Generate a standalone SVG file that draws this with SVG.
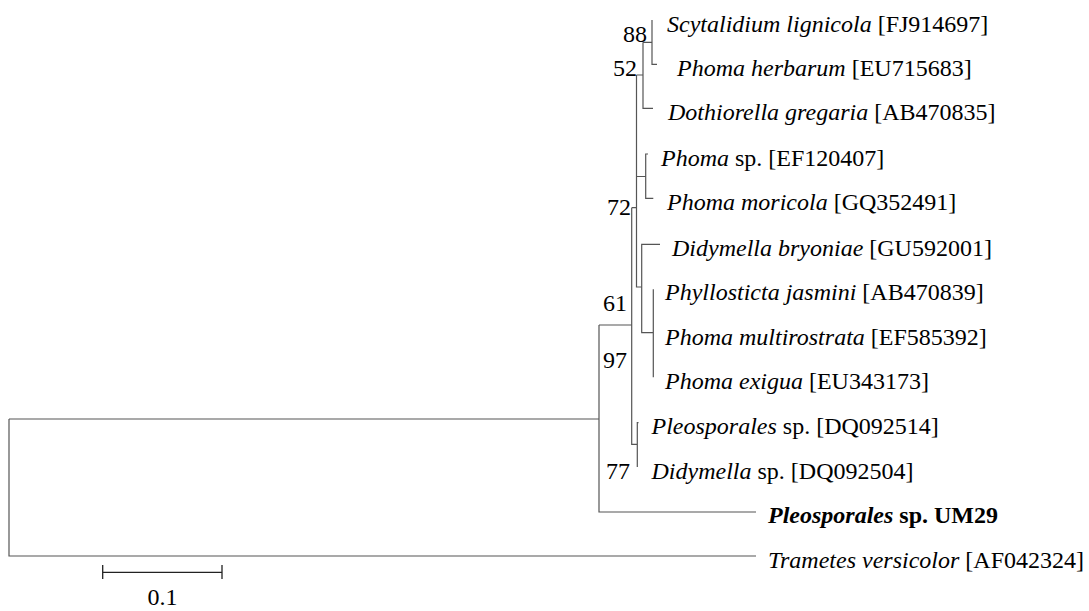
<svg xmlns="http://www.w3.org/2000/svg" width="1089" height="611" viewBox="0 0 1089 611">
<style>
.br{fill:none;stroke:#555;stroke-width:1.2}
.sb{fill:none;stroke:#222;stroke-width:1.3}
text{font-family:"Liberation Serif","Times New Roman",serif;font-size:24px;fill:#000}
.i{font-style:italic}
.sup{text-anchor:end}
</style>
<rect width="1089" height="611" fill="#fff"/>
<g id="connectors">
<path class="br" d="M652,20 V64.3 H657 M643,42.3 H652 M643,42.3 V108.3 H653"/>
<path class="br" d="M636.5,176.5 H645.7 M648,154 H645.7 V198.3 H653.3"/>
<path class="br" d="M636.5,75 H643 M636.5,75 V287 H641.7"/>
<path class="br" d="M660,244.3 H641.7 V332.7 H653.3 M653.3,289.3 V377.3"/>
<path class="br" d="M631.7,207.7 H636.5 M631.7,207.7 V444.3 H637.3 M638.5,422.7 H637.3 V467"/>
<path class="br" d="M599,325 H631.7 M599,325 V512 H756"/>
<path class="br" d="M9,419 H599 M9,419 V556 H756"/>
</g>
<g id="supports">
<text class="sup" x="647" y="42">88</text>
<text class="sup" x="637" y="76">52</text>
<text class="sup" x="631" y="215">72</text>
<text class="sup" x="627" y="311">61</text>
<text class="sup" x="627" y="368">97</text>
<text class="sup" x="630" y="479">77</text>
</g>
<g id="leaf-scytalidium"><text x="667" y="32"><tspan class="i">Scytalidium lignicola</tspan> [FJ914697]</text></g>
<g id="leaf-phoma-herbarum"><text x="677" y="76"><tspan class="i">Phoma herbarum</tspan> [EU715683]</text></g>
<g id="leaf-dothiorella"><text x="668" y="120"><tspan class="i">Dothiorella gregaria</tspan> [AB470835]</text></g>
<g id="leaf-phoma-sp"><text x="661" y="166"><tspan class="i">Phoma</tspan> sp. [EF120407]</text></g>
<g id="leaf-phoma-moricola"><text x="667" y="210"><tspan class="i">Phoma moricola</tspan> [GQ352491]</text></g>
<g id="leaf-didymella-bryoniae"><text x="672" y="256"><tspan class="i">Didymella bryoniae</tspan> [GU592001]</text></g>
<g id="leaf-phyllosticta"><text x="665" y="300"><tspan class="i">Phyllosticta jasmini</tspan> [AB470839]</text></g>
<g id="leaf-phoma-multirostrata"><text x="665" y="345"><tspan class="i">Phoma multirostrata</tspan> [EF585392]</text></g>
<g id="leaf-phoma-exigua"><text x="665" y="389"><tspan class="i">Phoma exigua</tspan> [EU343173]</text></g>
<g id="leaf-pleosporales-sp"><text x="651.5" y="434"><tspan class="i">Pleosporales</tspan> sp. [DQ092514]</text></g>
<g id="leaf-didymella-sp"><text x="651.5" y="479"><tspan class="i">Didymella</tspan> sp. [DQ092504]</text></g>
<g id="leaf-um29"><text x="768" y="523" font-weight="bold"><tspan class="i">Pleosporales</tspan> sp. UM29</text></g>
<g id="leaf-trametes"><text x="768" y="568"><tspan class="i">Trametes versicolor</tspan> [AF042324]</text></g>
<g id="scale-bar">
<path class="sb" d="M102.7,572.3 H222 M102.7,565 V579 M222,565 V579"/>
<text x="162.5" y="605" text-anchor="middle">0.1</text>
</g>
</svg>
